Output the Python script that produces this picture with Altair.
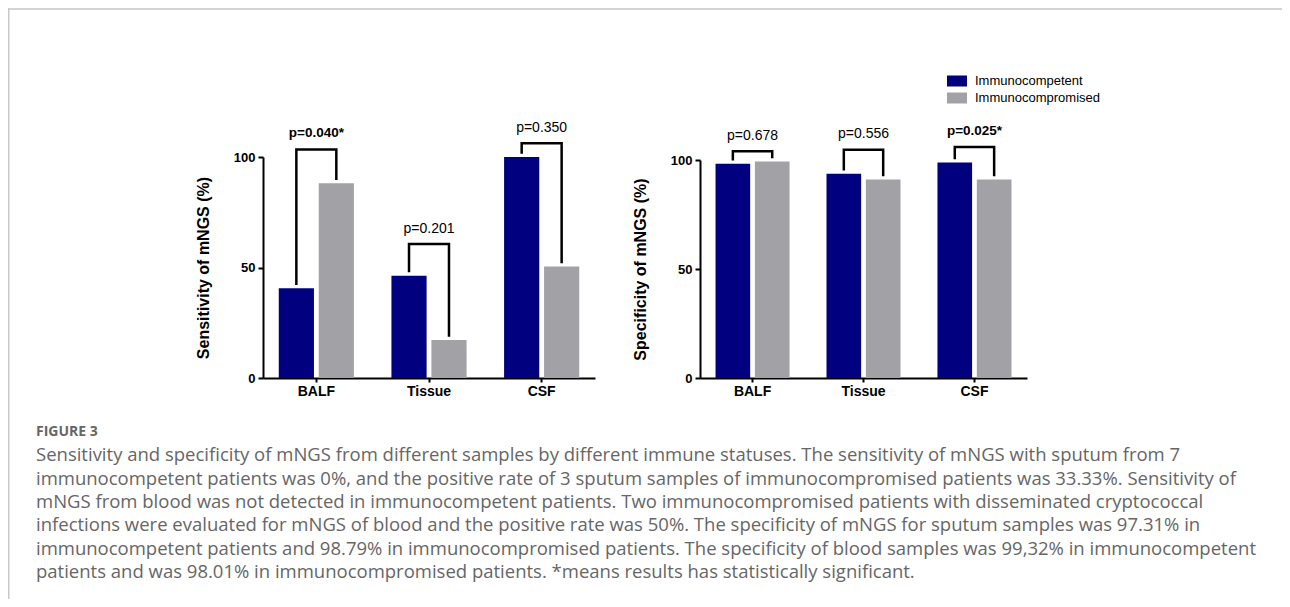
import altair as alt
import pandas as pd

# ---------------- data ----------------
categories = ["BALF", "Tissue", "CSF"]
groups = ["Immunocompetent", "Immunocompromised"]

sens_competent = [40.6, 46.3, 100.0]
sens_compromised = [88.1, 17.2, 50.4]
sens_pvalues = ["p=0.040*", "p=0.201", "p=0.350"]
sens_significant = [True, False, False]
sens_bracket_top = [103.4, 60.6, 106.2]

spec_competent = [98.3, 93.7, 98.9]
spec_compromised = [99.3, 91.0, 91.0]
spec_pvalues = ["p=0.678", "p=0.556", "p=0.025*"]
spec_significant = [False, False, True]
spec_bracket_top = [104.0, 104.7, 106.0]

y_ticks = [0, 50, 100]

caption_title = "FIGURE 3"
caption_lines = [
    "Sensitivity and specificity of mNGS from different samples by different immune statuses. The sensitivity of mNGS with sputum from 7",
    "immunocompetent patients was 0%, and the positive rate of 3 sputum samples of immunocompromised patients was 33.33%. Sensitivity of",
    "mNGS from blood was not detected in immunocompetent patients. Two immunocompromised patients with disseminated cryptococcal",
    "infections were evaluated for mNGS of blood and the positive rate was 50%. The specificity of mNGS for sputum samples was 97.31% in",
    "immunocompetent patients and 98.79% in immunocompromised patients. The specificity of blood samples was 99,32% in immunocompetent",
    "patients and was 98.01% in immunocompromised patients. *means results has statistically significant.",
]

# ---------------- style ----------------
FONT = "Liberation Sans"
CAP_FONT = "Open Sans"
NAVY = "#01017F"
GRAY = "#A2A2A6"
CAP_COLOR = "#666666"
W, H = 1274, 591
LEG_GAP = 1.5

color = alt.Color(
    "grp:N",
    scale=alt.Scale(domain=groups, range=[NAVY, GRAY]),
    legend=alt.Legend(
        title=None, orient="none", legendX=939, legendY=63,
        symbolType="M-1,-0.55L1,-0.55L1,0.55L-1,0.55Z", symbolSize=400,
        symbolStrokeWidth=0, labelFont=FONT, labelFontSize=13,
        labelColor="black", labelOffset=8, rowPadding=0,
    ),
)


def panel(comp, compr, pvals, sig, tops, ytitle, xrange, yrange, xoff, yoff):
    bars = pd.DataFrame({
        "cat": categories * 2,
        "grp": [groups[0]] * 3 + [groups[1]] * 3,
        "val": comp + compr,
    })
    rows = []
    for i, c in enumerate(categories):
        rows += [
            {"cat": c, "grp": groups[0], "val": comp[i] + LEG_GAP, "o": 0},
            {"cat": c, "grp": groups[0], "val": tops[i], "o": 1},
            {"cat": c, "grp": groups[1], "val": tops[i], "o": 2},
            {"cat": c, "grp": groups[1], "val": compr[i] + LEG_GAP, "o": 3},
        ]
    brackets = pd.DataFrame(rows)
    labels = pd.DataFrame({"cat": categories, "val": tops, "txt": pvals, "sig": sig})

    xscale = alt.Scale(domain=categories, range=xrange, paddingInner=0.333, paddingOuter=0.14)
    yscale = alt.Scale(domain=[0, 100], range=yrange, nice=False, zero=True)
    xaxis = alt.Axis(
        title=None, orient="bottom", offset=xoff, labelAngle=0,
        labelFont=FONT, labelFontSize=14, labelFontWeight="bold", labelColor="black",
        labelPadding=2, tickSize=4, tickWidth=2, tickColor="black",
        domainColor="black", domainWidth=2, grid=False,
    )
    yaxis = alt.Axis(
        title=ytitle, orient="left", offset=yoff, values=y_ticks,
        labelFont=FONT, labelFontSize=13, labelFontWeight="bold", labelColor="black",
        labelPadding=3, tickSize=5, tickWidth=2, tickColor="black",
        domainColor="black", domainWidth=2, grid=False,
        titleFont=FONT, titleFontSize=16, titleFontWeight="bold", titleColor="black",
        titlePadding=22,
    )
    x = alt.X("cat:N", scale=xscale, axis=xaxis, sort=categories)
    y = alt.Y("val:Q", scale=yscale, axis=yaxis)
    xo = alt.XOffset("grp:N", sort=groups, scale=alt.Scale(paddingInner=0.12))

    bar_layer = alt.Chart(bars).mark_bar().encode(x=x, y=y, xOffset=xo, color=color)
    br_layer = alt.Chart(brackets).mark_line(
        color="black", strokeWidth=2.5, strokeJoin="miter", strokeCap="butt"
    ).encode(x=x, y=y, xOffset=xo, order="o:Q", detail="cat:N")
    txt_norm = alt.Chart(labels).transform_filter("!datum.sig").mark_text(
        font=FONT, fontSize=14, color="black", dy=-15.5, baseline="middle"
    ).encode(x=x, y=y, text="txt:N")
    txt_bold = alt.Chart(labels).transform_filter("datum.sig").mark_text(
        font=FONT, fontSize=13.5, fontWeight="bold", color="black", dy=-16, baseline="middle"
    ).encode(x=x, y=y, text="txt:N")
    return alt.layer(bar_layer, br_layer, txt_norm, txt_bold)


left = panel(sens_competent, sens_compromised, sens_pvalues, sens_significant,
             sens_bracket_top, "Sensitivity of mNGS (%)",
             [255, 587], [370, 149], -221, -255)
right = panel(spec_competent, spec_compromised, spec_pvalues, spec_significant,
              spec_bracket_top, "Specificity of mNGS (%)",
              [692, 1019], [370, 152], -221, -692)

# caption
cap_df = pd.DataFrame({"i": list(range(len(caption_lines) + 1)),
                       "txt": [caption_title] + caption_lines})
cap_y = alt.Y("i:O", scale=alt.Scale(range=[424, 564], padding=0), axis=None)
cap_head = alt.Chart(cap_df).transform_filter("datum.i == 0").mark_text(
    font=CAP_FONT, fontSize=14, fontWeight="bold", color=CAP_COLOR, align="left", baseline="middle"
).encode(x=alt.value(28), y=cap_y, text="txt:N")
cap_body = alt.Chart(cap_df).transform_filter("datum.i > 0").mark_text(
    font=CAP_FONT, fontSize=18.5, color=CAP_COLOR, align="left", baseline="middle"
).encode(x=alt.value(28), y=cap_y, text="txt:N")
caption = alt.layer(cap_head, cap_body)

# thin frame (top and left border)
one = pd.DataFrame({"a": [0]})
frame_top = alt.Chart(one).mark_rule(color="#D4D4D4", strokeWidth=2).encode(
    x=alt.value(0), x2=alt.value(W), y=alt.value(1))
frame_left = alt.Chart(one).mark_rule(color="#C8C8C8", strokeWidth=1.5).encode(
    x=alt.value(0.75), y=alt.value(0), y2=alt.value(H))
frame = alt.layer(frame_top, frame_left)

chart = alt.layer(left, right, caption, frame).resolve_scale(
    x="independent", y="independent", xOffset="independent"
).properties(
    width=W, height=H, padding=0,
    autosize=alt.AutoSizeParams(type="none"),
).configure_view(stroke=None).configure(background="white")

chart.save("out.html", embed_options={"renderer": "svg", "actions": False})
